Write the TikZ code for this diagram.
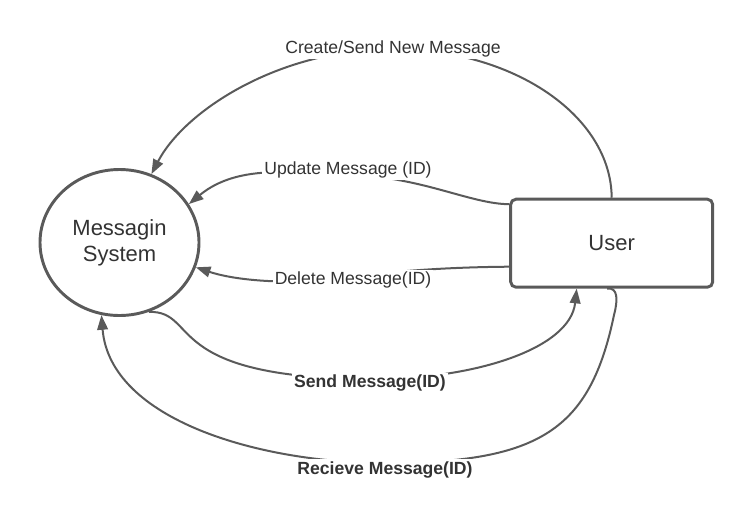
\documentclass[tikz,border=0pt]{standalone}
\usepackage{fontspec}
\setmainfont{Liberation Sans}
\usetikzlibrary{arrows.meta,shapes.geometric,calc}
\definecolor{ln}{HTML}{5A5A5A}
\definecolor{tx}{HTML}{333333}
\begin{document}
\begin{tikzpicture}[x=0.75pt,y=-0.75pt,
  conn/.style={draw=ln, line width=1.5pt, -{Triangle[length=11pt,width=8pt]}},
  lbl/.style={fill=white, text=tx, font=\fontsize{13.2}{15}\selectfont, inner sep=1.5pt},
  blbl/.style={lbl, font=\fontsize{13.2}{15}\selectfont\bfseries},
  procnode/.style={ellipse, draw=ln, line width=2.2pt, fill=white, inner sep=0pt,
    minimum width=119.25pt, minimum height=109.5pt, align=center, text=tx,
    font=\fontsize{16.5}{19.5}\selectfont},
  entnode/.style={rectangle, rounded corners=4pt, draw=ln, line width=2.2pt, fill=white,
    minimum width=151.5pt, minimum height=66pt, text=tx,
    font=\fontsize{16.5}{19.5}\selectfont}]
\useasboundingbox (0,0) rectangle (752,522);

\node[procnode] (ms) at (119.5,242.5) {Messagin\\System};
\node[entnode] (user) at (611.7,243.2) {User};

% Create/Send New Message
\draw[conn] (user.north) .. controls (611,115.6) and (513.4,49) .. (393,49)
  node[lbl] (lc) {Create/Send New Message}
  .. controls (280,49) and (185,110) .. (ms.65);

% Update Message (ID)
\draw[conn] ($(user.west)+(0,-39)$) .. controls (470,204) and (420,176) .. (348,175)
  node[lbl, yshift=3.75pt] (lu) {Update Message (ID)}
  .. controls (300,174) and (240,162) .. (ms.29.6);

% Delete Message(ID)
\draw[conn] ($(user.west)+(0,23.5)$) .. controls (460,267) and (400,270) .. (353,277)
  node[lbl, yshift=-2.25pt] (ld) {Delete Message(ID)}
  .. controls (300,285) and (240,282) .. (ms.-18.5);

% Send Message(ID)
\draw[conn] (ms.-67) .. controls (200,311) and (160,378) .. (370,379)
  node[blbl, yshift=-3pt] (ls) {Send Message(ID)}
  .. controls (470,380) and (570,350) .. ($(user.south)+(-35,0)$);

% Recieve Message(ID)
\draw[conn] ($(user.south)+(-4.5,0)$) .. controls (618,287) and (618,300) .. (614,315)
  .. controls (590,430) and (540,463) .. (385,463)
  node[blbl, yshift=-5pt] (lr) {Recieve Message(ID)}
  .. controls (260,463) and (110,420) .. (ms.-104);
\end{tikzpicture}
\end{document}
